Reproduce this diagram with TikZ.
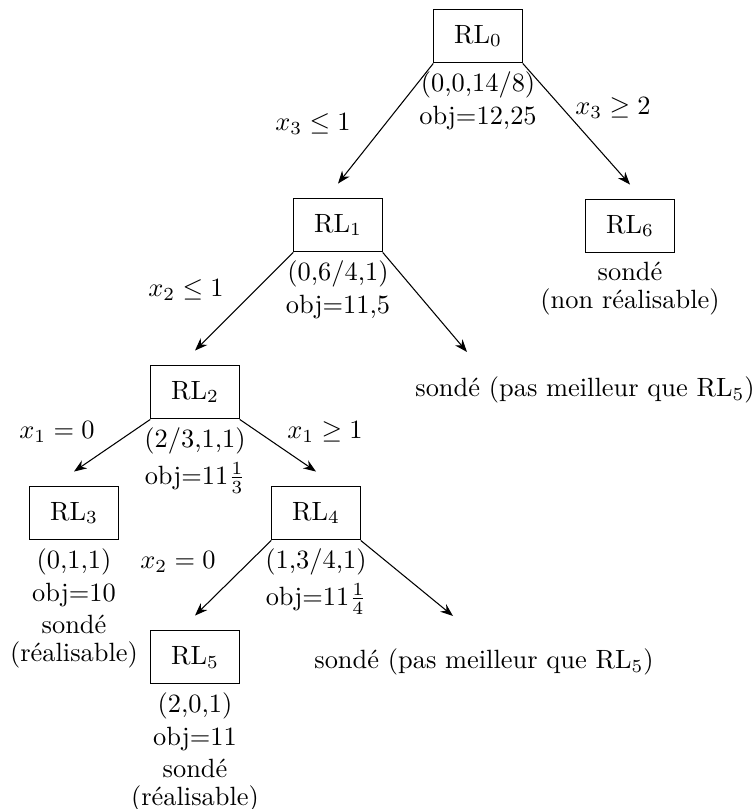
\documentclass[tikz,border=0pt]{standalone}
\usepackage{tikz}
\usetikzlibrary{arrows.meta, positioning}

\begin{document}
\begin{tikzpicture}[
    x=0.3788pt, y=0.3788pt,
    box/.style={
        rectangle,
        draw,
        minimum width=33.5pt,
        minimum height=20.4pt,
        align=center
    },
    info/.style={
        inner sep=3pt,
        align=center
    },
    arrow/.style={
        -{Stealth},
        thin
    },
    cond/.style={
        inner sep=0pt
    }
]
\useasboundingbox (0,0) rectangle (755,-809);

% Subproblems
\node[box] (rl0) at (478,-36) {RL$_0$};
\node[box] (rl1) at (338,-225) {RL$_1$};
\node[box] (rl6) at (630,-226) {RL$_6$};
\node[box] (rl2) at (195,-392) {RL$_2$};
\node[box] (rl3) at (74,-513) {RL$_3$};
\node[box] (rl4) at (316,-513) {RL$_4$};
\node[box] (rl5) at (195,-657) {RL$_5$};

% Solutions under the boxes
\node[info, below=0pt of rl0] (sol0) {\shortstack{(0,0,14/8)\\obj=12,25}};
\node[info, below=0pt of rl1] (sol1) {\shortstack{(0,6/4,1)\\obj=11,5}};
\node[info, below=0pt of rl6] (sol6) {\shortstack{sondé\\(non réalisable)}};
\node[info, below=0pt of rl2] (sol2) {\shortstack{(2/3,1,1)\\obj=11$\frac{1}{3}$}};
\node[info, below=0pt of rl3] (sol3) {\shortstack{(0,1,1)\\obj=10\\sondé\\(réalisable)}};
\node[info, below=0pt of rl4] (sol4) {\shortstack{(1,3/4,1)\\obj=11$\frac{1}{4}$}};
\node[info, below=0pt of rl5] (sol5) {\shortstack{(2,0,1)\\obj=11\\sondé\\(réalisable)}};

% Pruned branches
\coordinate (cut1) at (467,-352);
\coordinate (cut4) at (453,-616);
\node (pruned1) at (585,-390) {sondé (pas meilleur que RL$_5$)};
\node (pruned4) at (484,-662) {sondé (pas meilleur que RL$_5$)};

% Branching
\draw[arrow] (rl0.south west) -- ([yshift=5.3pt]rl1.north);
\draw[arrow] (rl0.south east) -- ([yshift=5.3pt]rl6.north);
\draw[arrow] (rl1.south west) -- ([yshift=5.3pt]rl2.north);
\draw[arrow] (rl1.south east) -- (cut1);
\draw[arrow] (rl2.south west) -- ([yshift=5.3pt]rl3.north);
\draw[arrow] (rl2.south east) -- ([yshift=5.3pt]rl4.north);
\draw[arrow] (rl4.south west) -- ([yshift=5.3pt]rl5.north);
\draw[arrow] (rl4.south east) -- (cut4);

% Branching conditions
\node[cond] (b03) at (313,-124) {$x_3 \leq 1$};
\node[cond] (b06) at (613,-108) {$x_3 \geq 2$};
\node[cond] (b12) at (186,-290) {$x_2 \leq 1$};
\node[cond] (b23) at (57,-432) {$x_1 = 0$};
\node[cond] (b24) at (325,-432) {$x_1 \geq 1$};
\node[cond] (b45) at (178,-562) {$x_2 = 0$};

\end{tikzpicture}
\end{document}
